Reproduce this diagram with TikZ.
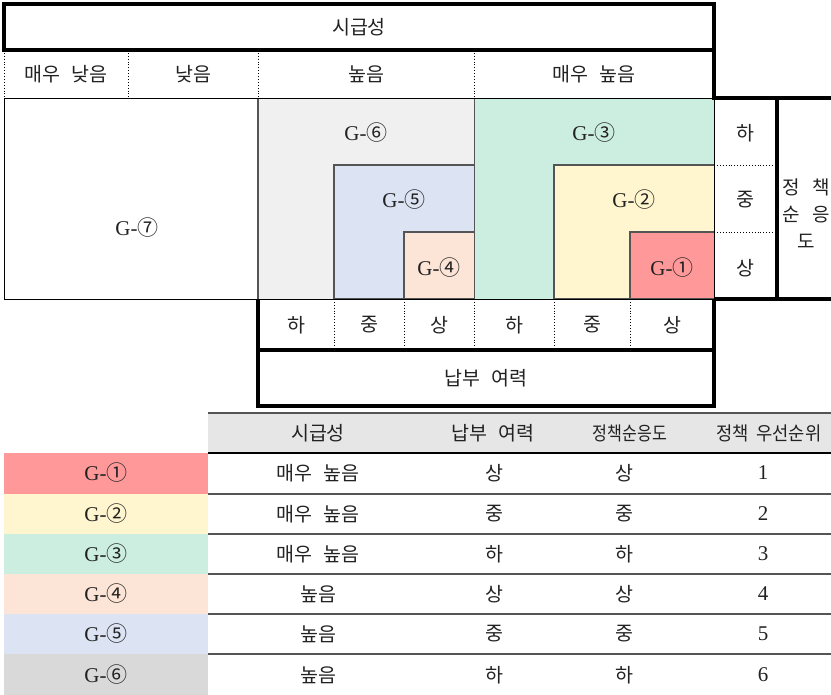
\documentclass[tikz,border=0pt]{standalone}
\usepackage{fontspec}
\setmainfont{Liberation Serif}
\newfontfamily\kr{Noto Sans CJK KR}
\definecolor{cRed}{HTML}{FF9999}
\definecolor{cYel}{HTML}{FFF5CE}
\definecolor{cGrn}{HTML}{CCEEE0}
\definecolor{cPch}{HTML}{FCE4D6}
\definecolor{cBlu}{HTML}{DCE3F3}
\definecolor{cGry}{HTML}{F0F0F0}
\definecolor{cGryT}{HTML}{D9D9D9}
\definecolor{cHead}{HTML}{E6E6E6}
\definecolor{txt}{HTML}{222222}
\definecolor{edge}{HTML}{555555}
\newcommand{\cn}[1]{{\kr #1}}
\newcommand{\ws}{\hspace{0.6em}}
\tikzset{
  heavy/.style={line width=3.5pt, line join=miter, draw=black},
  fine/.style={line width=0.9pt, draw=black},
  dots/.style={line width=0.9pt, dotted, draw=black},
  region/.style={line width=1.1pt, draw=edge},
  rowline/.style={line width=1.3pt, draw=edge},
  lbl/.style={font=\kr\fontsize{19.5}{22}\selectfont, text=txt, inner sep=0pt},
  glbl/.style={font=\fontsize{21}{22}\selectfont, text=txt, inner sep=0pt},
}
\begin{document}
\begin{tikzpicture}[x=1pt,y=-1pt]
\useasboundingbox (0,0) rectangle (831,695);
% ---------- region fills ----------
\fill[cGry] (258,98) rectangle (474,299);
\fill[cGrn] (474,98) rectangle (714,299);
\filldraw[fill=cBlu, region] (474,165) -- (334,165) -- (334,299) -- (474,299);
\filldraw[fill=cPch, region] (474,232) -- (404,232) -- (404,299) -- (474,299);
\filldraw[fill=cYel, region] (714,165) -- (554,165) -- (554,299) -- (714,299);
\filldraw[fill=cRed, region] (714,232) -- (630,232) -- (630,299) -- (714,299);
\draw[line width=1pt, draw=edge] (474,98) -- (474,299);
\draw[line width=1.6pt, draw=edge] (258,98) -- (258,299);
% main box
\draw[fine] (4,98) rectangle (714,299);
% ---------- header rows ----------
\draw[heavy] (4,4) rectangle (714,50);
\foreach \x in {4,128,258,474} \draw[dots] (\x,50) -- (\x,98);
\draw[heavy] (714,50) -- (714,98) -- (831,98);
% right column
\draw[dots] (714,165) -- (777,165);
\draw[dots] (714,232) -- (777,232);
\draw[heavy] (777,98) -- (777,299);
\draw[heavy] (714,299) -- (831,299);
% bottom boxes
\foreach \x in {334,404,474,554,630} \draw[dots] (\x,299) -- (\x,350);
\draw[heavy] (258,299) -- (258,406) -- (714,406) -- (714,299);
\draw[heavy] (258,350) -- (714,350);
% ---------- labels ----------
\node[lbl] (ts) at (359,27) {시급성};
\node[lbl] (t1) at (66,74) {매우\ws 낮음};
\node[lbl] (t2) at (193,74) {낮음};
\node[lbl] (t3) at (366,74) {높음};
\node[lbl] (t4) at (594,74) {매우\ws 높음};
\node[glbl] (g7) at (137,228) {G-\cn{⑦}};
\node[glbl] (g6) at (366,133) {G-\cn{⑥}};
\node[glbl] (g5) at (404,200) {G-\cn{⑤}};
\node[glbl] (g4) at (439,268) {G-\cn{④}};
\node[glbl] (g3) at (594,133) {G-\cn{③}};
\node[glbl] (g2) at (634,200) {G-\cn{②}};
\node[glbl] (g1) at (672,268) {G-\cn{①}};
\node[lbl] (r1) at (745,133) {하};
\node[lbl] (r2) at (745,200) {중};
\node[lbl] (r3) at (745,268) {상};
\node[lbl, align=center, font=\kr\fontsize{19}{27}\selectfont] (jc) at (806,214) {정\hspace{13pt}책\\순\hspace{13pt}응\\도};
\node[lbl] (b1) at (296,325) {하};
\node[lbl] (b2) at (369,325) {중};
\node[lbl] (b3) at (439,325) {상};
\node[lbl] (b4) at (514,325) {하};
\node[lbl] (b5) at (592,325) {중};
\node[lbl] (b6) at (672,325) {상};
\node[lbl] (nb) at (486,378) {납부\ws 여력};
% ---------- table ----------
\fill[cHead] (208,413) rectangle (831,453);
\fill[cRed]  (4,453) rectangle (208,494);
\fill[cYel]  (4,494) rectangle (208,534);
\fill[cGrn]  (4,534) rectangle (208,574);
\fill[cPch]  (4,574) rectangle (208,614);
\fill[cBlu]  (4,614) rectangle (208,654);
\fill[cGryT] (4,654) rectangle (208,695);
\draw[line width=2pt, draw=edge] (208,413) -- (831,413);
\draw[line width=1.2pt, draw=black] (208,453) -- (831,453);
\foreach \y in {494,534,574,614,654} \draw[rowline] (208,\y) -- (831,\y);
\node[lbl] (h1) at (318,433) {시급성};
\node[lbl] (h2) at (493,433) {납부\ws 여력};
\node[lbl, font=\kr\fontsize{19}{20}\selectfont] (h3) at (630,433) {\scalebox{0.85}[1]{정책순응도}};
\node[lbl, font=\kr\fontsize{19}{20}\selectfont] (h4) at (769,433) {\scalebox{0.93}[1]{정책\hspace{0.4em}우선순위}};
\foreach \y/\g/\s/\a/\b/\n [count=\i] in {
  473/①/매우\ws 높음/상/상/1,
  514/②/매우\ws 높음/중/중/2,
  554/③/매우\ws 높음/하/하/3,
  594/④/높음/상/상/4,
  634/⑤/높음/중/중/5,
  675/⑥/높음/하/하/6} {
  \node[glbl] (tg\i) at (106,\y) {G-\cn{\g}};
  \node[lbl] (ts\i) at (318,\y) {\s};
  \node[lbl] (ta\i) at (494,\y) {\a};
  \node[lbl] (tb\i) at (624,\y) {\b};
  \node[glbl] (tn\i) at (763,\y) {\n};
}
\end{tikzpicture}
\end{document}
